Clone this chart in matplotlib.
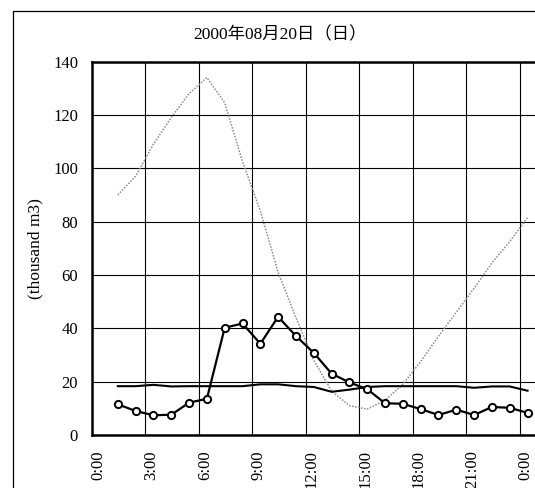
import matplotlib

matplotlib.use("Agg")
import matplotlib.pyplot as plt
import numpy as np
from matplotlib.patches import Rectangle
from matplotlib.transforms import ScaledTranslation

# hourly values, 1:00 .. 24:00 (thousand m3)
hours = np.arange(1, 25)
flow = [11.5, 9.0, 7.4, 7.6, 12.1, 13.6, 40.2, 41.8, 34.2, 44.3, 37.1, 30.8,
        23.0, 19.7, 17.2, 11.9, 11.7, 9.7, 7.5, 9.5, 7.5, 10.5, 10.2, 8.3]
base = [18.3, 18.3, 18.8, 18.2, 18.3, 18.3, 18.3, 18.3, 19.0, 19.0, 18.3, 18.0,
        16.2, 17.0, 18.0, 18.3, 18.3, 18.3, 18.3, 18.3, 17.7, 18.2, 18.2, 16.6]
level = [90, 97, 109, 119, 128, 134, 124.5, 102.5, 84, 61, 44, 28,
         16.5, 11, 9.7, 13, 19, 27.5, 37, 46, 55, 64.5, 72.5, 81.5]
tick_hours = [0, 3, 6, 9, 12, 15, 18, 21, 24]
tick_labels = ["0:00", "3:00", "6:00", "9:00", "12:00", "15:00", "18:00", "21:00", "0:00"]
title = "2000年08月20日（日）"

FONT = ["Liberation Serif", "Noto Sans CJK JP"]
plt.rcParams["font.family"] = FONT
plt.rcParams["font.size"] = 12

W, H = 535, 488
fig = plt.figure(figsize=(W / 100, H / 100), dpi=100)

# outer chart frame (continues past the right/bottom edge)
fig.patches.append(Rectangle((13 / W, -0.1), 1.0, 1 - 10.5 / H + 0.1,
                             transform=fig.transFigure, fill=False,
                             edgecolor="black", lw=0.9))

ax = fig.add_axes([92 / W, 1 - 435 / H, 1 - 92 / W, (435 - 61.5) / H])
x = hours + 0.45
ax.plot(x, level, color="0.55", lw=1.1, ls=(0, (1, 1)), zorder=3)
ax.plot(x, base, color="black", lw=1.5, zorder=4)
ax.plot(x, flow, color="black", lw=1.6, marker="o", ms=5.2,
        mfc="white", mec="black", mew=1.4, zorder=5)

ax.set_xlim(0, 24.87)
ax.set_ylim(0, 140)
ax.set_yticks(range(0, 141, 20))
ax.set_xticks(tick_hours)
ax.set_xticklabels(tick_labels, rotation=90, va="top")
ax.tick_params(length=0, labelsize=12)
ax.tick_params(axis="x", pad=11)
ax.tick_params(axis="y", pad=10)
for lab in ax.get_xticklabels():
    lab.set_transform(lab.get_transform() + ScaledTranslation(0.06, 0, fig.dpi_scale_trans))
ax.grid(True, color="black", lw=0.8)
ax.set_axisbelow(True)
for side in ("left", "bottom", "top"):
    ax.spines[side].set_linewidth(1.8)
ax.spines["right"].set_visible(False)
ax.set_ylabel("(thousand m3)", fontsize=12.5, labelpad=7)

fig.text(280 / W, 1 - 35 / H, title, ha="center", va="center", fontsize=12.5)

fig.savefig("out.png", dpi=100)
